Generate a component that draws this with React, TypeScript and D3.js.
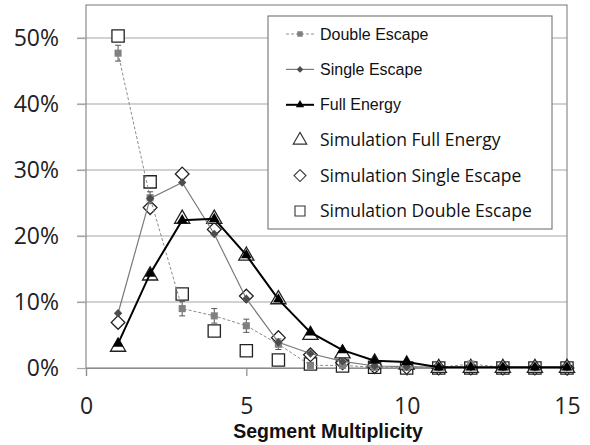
import React, { useEffect, useRef } from 'react';
import * as d3 from 'd3';

// segment multiplicity 1..15
const multiplicity = [1, 2, 3, 4, 5, 6, 7, 8, 9, 10, 11, 12, 13, 14, 15];

// measured fractions
const doubleEscape = [0.477, 0.258, 0.09, 0.079, 0.064, 0.036, 0.004, 0.004, 0.001, 0.001, 0.001, 0.006, 0.001, 0.001, 0.001];
const doubleEscapeErr = [0.012, 0.009, 0.011, 0.011, 0.01, 0.008, 0.004, 0.003, 0.002, 0.002, 0.002, 0.003, 0.002, 0.002, 0.002];
const singleEscape = [0.083, 0.257, 0.281, 0.203, 0.105, 0.039, 0.022, 0.01, 0.003, 0.002, 0.001, 0.001, 0.001, 0.001, 0.001];
const fullEnergy = [0.037, 0.143, 0.224, 0.226, 0.171, 0.104, 0.054, 0.027, 0.011, 0.009, 0.001, 0.001, 0.001, 0.001, 0.001];

// simulation
const simFullEnergy = [0.032, 0.14, 0.226, 0.226, 0.17, 0.104, 0.05, 0.022, 0.008, 0.005, 0.0, 0.0, 0.0, 0.0, 0.0];
const simSingleEscape = [0.069, 0.243, 0.294, 0.21, 0.109, 0.046, 0.02, 0.008, 0.002, 0.001, 0.0, 0.0, 0.0, 0.0, 0.0];
const simDoubleEscape = [0.503, 0.282, 0.112, 0.056, 0.026, 0.012, 0.006, 0.003, 0.001, 0.0, 0.0, 0.0, 0.0, 0.0, 0.0];

const yTicks = [0, 0.1, 0.2, 0.3, 0.4, 0.5];
const xTicks = [0, 5, 10, 15];

const legendLabels = [
  'Double Escape',
  'Single Escape',
  'Full Energy',
  'Simulation Full Energy',
  'Simulation Single Escape',
  'Simulation Double Escape',
];

const W = 590;
const H = 445;
const margin = { top: 5, right: 23, bottom: 77, left: 86 };

function App(): JSX.Element {
  const svgRef = useRef<SVGSVGElement>(null);

  useEffect(() => {
    const svg = d3.select(svgRef.current);
    svg.selectAll('*').remove();

    const x = d3.scaleLinear().domain([0, 15]).range([margin.left, W - margin.right]);
    const y = d3.scaleLinear().domain([0, 0.55]).range([H - margin.bottom, margin.top]);
    const tickFont = "'Open Sans', sans-serif";

    // gridlines
    svg.append('g')
      .selectAll('line')
      .data(yTicks.filter(d => d > 0))
      .join('line')
      .attr('x1', margin.left - 9)
      .attr('x2', W - margin.right)
      .attr('y1', d => y(d))
      .attr('y2', d => y(d))
      .attr('stroke', '#a6a6a6')
      .attr('stroke-width', 1.2);

    // plot border
    svg.append('rect')
      .attr('x', margin.left)
      .attr('y', margin.top)
      .attr('width', W - margin.right - margin.left)
      .attr('height', H - margin.bottom - margin.top)
      .attr('fill', 'none')
      .attr('stroke', '#8c8c8c')
      .attr('stroke-width', 1.2);

    // y axis
    const yAxis = svg.append('g')
      .attr('transform', `translate(${margin.left},0)`)
      .call(d3.axisLeft(y).tickValues(yTicks).tickFormat(d3.format('.0%')).tickSize(9).tickPadding(18));
    yAxis.select('.domain').remove();
    yAxis.selectAll('line').attr('stroke', '#a6a6a6').attr('stroke-width', 1.2);
    yAxis.selectAll('text').attr('font-family', tickFont).attr('font-size', 23).attr('fill', '#222');

    // x axis
    const xAxis = svg.append('g')
      .attr('transform', `translate(0,${H - margin.bottom})`)
      .call(d3.axisBottom(x).tickValues(xTicks).tickFormat(d3.format('d')).tickSize(8).tickPadding(22));
    xAxis.select('.domain').attr('stroke', '#8c8c8c').attr('stroke-width', 1.2);
    xAxis.selectAll('line').attr('stroke', '#8c8c8c').attr('stroke-width', 1.2);
    xAxis.selectAll('text').attr('font-family', tickFont).attr('font-size', 23).attr('fill', '#222');

    svg.append('text')
      .attr('x', 328)
      .attr('y', 438)
      .attr('text-anchor', 'middle')
      .attr('font-family', "'Liberation Sans', Arial, sans-serif")
      .attr('font-weight', 'bold')
      .attr('font-size', 19.5)
      .attr('fill', '#111')
      .text('Segment Multiplicity');

    const plot = svg.append('g');
    const line = (vals: number[]) =>
      d3.line<number>().x((_, i) => x(multiplicity[i])).y(d => y(d))(vals);

    const sq = d3.symbol().type(d3.symbolSquare);
    const dia = d3.symbol().type(d3.symbolDiamond2);
    const tri = d3.symbol().type(d3.symbolTriangle);

    const drawMarkers = (vals: number[], path: string, fill: string, stroke: string, sw: number) => {
      plot.append('g')
        .selectAll('path')
        .data(vals)
        .join('path')
        .attr('transform', (d, i) => `translate(${x(multiplicity[i])},${y(d)})`)
        .attr('d', path)
        .attr('fill', fill)
        .attr('stroke', stroke)
        .attr('stroke-width', sw);
    };

    // simulation markers
    drawMarkers(simDoubleEscape, sq.size(150)()!, '#fff', '#222', 1.3);
    drawMarkers(simSingleEscape, dia.size(120)()!, '#fff', '#222', 1.3);
    drawMarkers(simFullEnergy, tri.size(100)()!, '#fff', '#222', 1.3);

    // double escape
    plot.append('path')
      .attr('d', line(doubleEscape))
      .attr('fill', 'none')
      .attr('stroke', '#8c8c8c')
      .attr('stroke-width', 1)
      .attr('stroke-dasharray', '3,2');
    const eb = plot.append('g').attr('stroke', '#555').attr('stroke-width', 1);
    doubleEscape.forEach((v, i) => {
      const cx = x(multiplicity[i]);
      const e = doubleEscapeErr[i];
      eb.append('line').attr('x1', cx).attr('x2', cx).attr('y1', y(v - e)).attr('y2', y(v + e));
      eb.append('line').attr('x1', cx - 3).attr('x2', cx + 3).attr('y1', y(v - e)).attr('y2', y(v - e));
      eb.append('line').attr('x1', cx - 3).attr('x2', cx + 3).attr('y1', y(v + e)).attr('y2', y(v + e));
    });
    drawMarkers(doubleEscape, sq.size(50)()!, '#808080', 'none', 0);

    // single escape
    plot.append('path')
      .attr('d', line(singleEscape))
      .attr('fill', 'none')
      .attr('stroke', '#7a7a7a')
      .attr('stroke-width', 1.2);
    drawMarkers(singleEscape, dia.size(45)()!, '#4d4d4d', 'none', 0);

    // full energy
    plot.append('path')
      .attr('d', line(fullEnergy))
      .attr('fill', 'none')
      .attr('stroke', '#000')
      .attr('stroke-width', 2);
    drawMarkers(fullEnergy, tri.size(50)()!, '#000', 'none', 0);

    // legend
    const lg = svg.append('g');
    lg.append('rect')
      .attr('x', 268)
      .attr('y', 16)
      .attr('width', 284)
      .attr('height', 213)
      .attr('fill', '#fff')
      .attr('stroke', '#7f7f7f')
      .attr('stroke-width', 1.2);

    const rowY = d3.scalePoint<string>().domain(legendLabels).range([34, 211]);
    const mx = 300;
    legendLabels.forEach((label, i) => {
      const ry = rowY(label)!;
      const g = lg.append('g');
      if (i === 0) {
        g.append('line').attr('x1', 286).attr('x2', 314).attr('y1', ry).attr('y2', ry)
          .attr('stroke', '#8c8c8c').attr('stroke-dasharray', '3,2');
        g.append('path').attr('transform', `translate(${mx},${ry})`).attr('d', sq.size(30)()!).attr('fill', '#808080');
      } else if (i === 1) {
        g.append('line').attr('x1', 286).attr('x2', 314).attr('y1', ry).attr('y2', ry)
          .attr('stroke', '#7a7a7a').attr('stroke-width', 1.2);
        g.append('path').attr('transform', `translate(${mx},${ry})`).attr('d', dia.size(28)()!).attr('fill', '#4d4d4d');
      } else if (i === 2) {
        g.append('line').attr('x1', 286).attr('x2', 314).attr('y1', ry).attr('y2', ry)
          .attr('stroke', '#000').attr('stroke-width', 2);
        g.append('path').attr('transform', `translate(${mx},${ry})`).attr('d', tri.size(30)()!).attr('fill', '#000');
      } else {
        const p = i === 3 ? tri.size(80)() : i === 4 ? dia.size(90)() : sq.size(100)();
        g.append('path').attr('transform', `translate(${mx},${ry})`).attr('d', p!)
          .attr('fill', '#fff').attr('stroke', '#333').attr('stroke-width', 1.1);
      }
      g.append('text')
        .attr('x', 320)
        .attr('y', ry)
        .attr('dy', '0.35em')
        .attr('font-family', i < 3 ? "'Liberation Sans', Arial, sans-serif" : tickFont)
        .attr('font-size', i < 3 ? 16 : 17.5)
        .attr('fill', '#111')
        .text(label);
    });
  }, []);

  return (
    <div>
      <svg
        ref={svgRef}
        width={W}
        height={H}
        style={{ position: 'absolute', left: 0, top: 0, background: '#fff' }}
      ></svg>
    </div>
  );
}

export default App;
